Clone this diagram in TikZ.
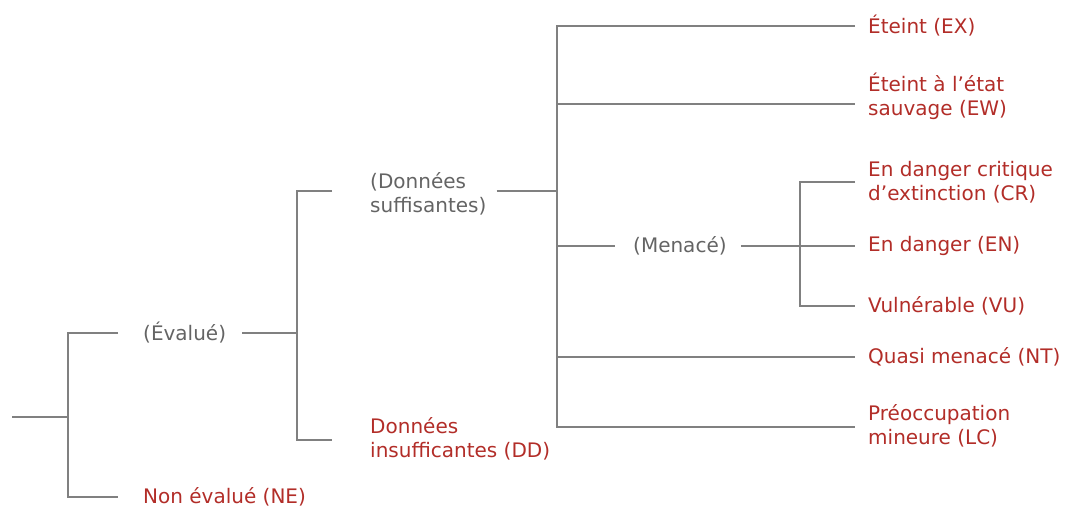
\documentclass[tikz,border=0pt]{standalone}
\usepackage{fontspec}
\setmainfont{DejaVu Sans}
\usepackage{tikz}
\usetikzlibrary{calc}
\definecolor{lgray}{RGB}{128,128,128}
\definecolor{tgray}{RGB}{100,100,100}
\definecolor{cred}{RGB}{178,45,40}
\begin{document}
\begin{tikzpicture}[x=1pt,y=-1pt,
    br/.style={draw=lgray,line width=1.8pt},
    grp/.style={anchor=west,inner sep=0pt,align=left,text=tgray,font=\fontsize{20}{24}\selectfont},
    cat/.style={anchor=west,inner sep=0pt,align=left,text=cred,font=\fontsize{20}{24}\selectfont}]
                      \useasboundingbox(0,0)rectangle(1065,507);
                      % junctions
                      \coordinate(r0)at(12,417);
                      \coordinate(j1)at(68,417);
                      \coordinate(j2)at(297,333);
                      \coordinate(j3)at(557,191);
                      \coordinate(j4)at(800,246);
                      % labels
                      \node[grp](eval)at(143,333){(Évalué)};
                      \node[cat](ne)at(143,497){Non évalué (NE)};
                      \node[grp](suff)at(370,194){(Données\\suffisantes)};
                      \node[cat](dd)at(370,439){Données\\insufficantes (DD)};
                      \node[grp](men)at(633,246){(Menacé)};
                      \node[cat](ex)at(868,26){Éteint (EX)};
                      \node[cat](ew)at(868,96){Éteint à l'état\\sauvage (EW)};
                      \node[cat](cr)at(868,182){En danger critique\\d'extinction (CR)};
                      \node[cat](en)at(868,246){En danger (EN)};
                      \node[cat](vu)at(868,306){Vulnérable (VU)};
                      \node[cat](nt)at(868,357){Quasi menacé (NT)};
                      \node[cat](lc)at(868,426){Préoccupation\\mineure (LC)};
                      % branches
                      \draw[br](r0)--(j1);
                      \draw[br]([xshift=-25pt]eval.west)-|(j1)|-([xshift=-25pt]ne.west);
                      \draw[br](eval.east)++(16pt,0)--(j2);
                      \draw[br]([xshift=-38pt]suff.west|-j3)-|(j2)|-([xshift=-38pt]dd.west|-0,440);
                      \draw[br]([xshift=10pt]suff.east|-j3)--(j3);
                      \draw[br]([xshift=-13pt]ex.west)-|(j3)|-([xshift=-13pt]lc.west|-0,427);
                      \draw[br](j3|-0,104)--([xshift=-13pt]ew.west|-0,104);
                      \draw[br](j3|-men)--([xshift=-18pt]men.west);
                      \draw[br](j3|-nt)--([xshift=-13pt]nt.west);
                      \draw[br]([xshift=14pt]men.east)--([xshift=-13pt]en.west);
                      \draw[br]([xshift=-13pt]cr.west)-|(j4)|-([xshift=-13pt]vu.west);
                  \end{tikzpicture}
\end{document}
